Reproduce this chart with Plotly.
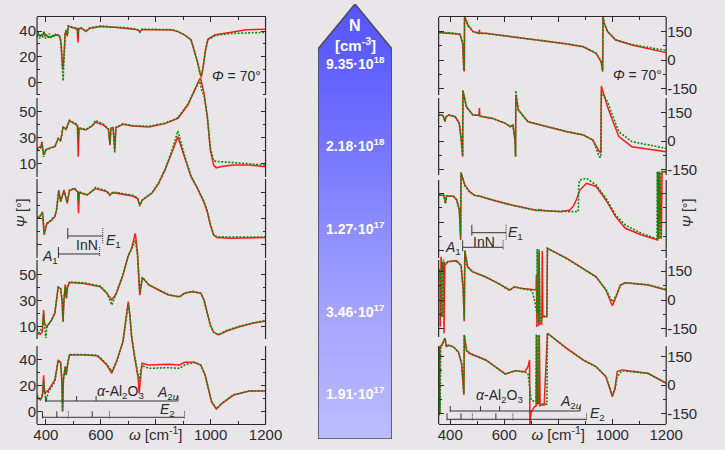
import plotly.graph_objects as go

# ----------------------------- data -----------------------------
# Left: Psi spectra (deg) vs wavenumber (cm^-1), five samples (top -> bottom)
L1_R_W = [368, 380, 395, 410, 425, 440, 450, 456, 460, 462.5, 466, 470, 474, 478, 482, 490, 505, 514, 517, 520, 530, 546, 560, 600, 650, 700, 735, 742, 750, 800, 860, 881, 905, 929, 940, 952, 960, 966, 973, 981, 990, 1017, 1070, 1130, 1200]
L1_R_V = [37, 36, 38, 35, 36, 37, 36, 30, 14, 10, 20, 38, 40, 36, 44, 43, 42, 42, 31, 42, 42, 39.5, 42, 43.5, 43, 42, 41, 39.5, 41, 41, 40.8, 39.5, 37, 33, 25, 16, 8, 3.7, 12, 25, 33.5, 37, 38.8, 41, 41.3]
L1_G_W = [368, 373, 378, 383, 388, 393, 398, 403, 408, 413, 418, 423, 428, 433, 438, 443, 448, 454, 458, 461, 463, 465, 468, 471, 474, 478, 482, 490, 505, 514, 517, 520, 530, 546, 560, 600, 650, 700, 735, 742, 750, 800, 860, 881, 905, 929, 940, 952, 960, 966, 973, 981, 990, 1017, 1070, 1130, 1200]
L1_G_V = [35, 39, 34, 38, 35, 40, 34, 37, 35, 38, 34, 37, 35, 38, 36, 37, 37, 33, 20, 5, 1, 12, 30, 39, 41, 36, 44, 43.5, 42.5, 42, 37, 42, 42.5, 40, 42.5, 44, 43, 42.5, 41, 39, 41.5, 41.5, 41, 39.5, 37, 33, 25, 16, 8, 5, 12, 24, 33, 36.5, 38, 38.7, 39]

L2_W = [368, 382, 386, 392, 400, 409.5, 433, 445, 450, 454, 462.5, 468, 474, 486, 504, 515, 518, 521, 527, 545, 569, 580.5, 610, 628, 633.6, 637, 645, 651, 655, 681, 716, 775, 834, 881, 917, 940.5, 958, 963, 968, 976, 988, 999, 1011, 1020, 1040, 1080, 1141, 1200]
L2_R_V = [21.5, 23, 26.6, 16.4, 20.5, 21.5, 22.8, 29.2, 28, 27.5, 38, 37.5, 36.5, 42.8, 40.2, 39, 15, 37, 36.5, 35.6, 38.7, 41.5, 39.5, 36, 24, 37, 37.5, 20.2, 37.3, 40, 38.7, 38, 40.5, 44.6, 54.8, 66.4, 74, 75.4, 70, 63.8, 45.8, 20.2, 8.7, 6.5, 7.5, 8.7, 8.7, 7.4]
L2_G_V = [20, 22, 25, 15, 20, 21, 23, 29, 28.5, 27, 37.5, 37, 36, 43, 41, 40, 28, 37.5, 37, 36, 39, 43, 40, 36.5, 25, 37, 37.5, 18, 37.5, 40.5, 39, 38.5, 41, 45, 55.5, 66, 73, 71, 66, 62, 46, 22, 12, 11.5, 11.2, 10.5, 9.5, 8.7]

L3_W = [368, 376, 388, 394, 403.5, 420, 433, 439, 447, 454, 466, 478, 486, 504, 516, 519, 522, 527, 551, 569, 581, 622, 633, 645, 716, 734, 742, 751.5, 787, 810.6, 834, 858, 881, 905, 928.5, 952, 976, 987.6, 999, 1011, 1023, 1070, 1200]
L3_R_V = [31, 30, 34.8, 17, 26, 28, 31, 36, 51.5, 42.5, 51.5, 41.3, 51, 52.6, 50, 33.6, 50, 49.2, 47.7, 50.3, 52.6, 50.3, 48, 49.5, 46.9, 45, 40, 43.7, 49.2, 56.7, 67, 79.8, 92.5, 77, 61.8, 52.8, 42, 34.9, 24.6, 16.9, 15, 14.4, 15]
L3_G_V = [30, 31, 34, 18, 25, 28.5, 31.5, 36.5, 50.5, 43, 51, 42, 51.5, 53, 50.5, 43, 50.5, 49.5, 48, 51, 53.5, 50.8, 47.5, 50, 47.5, 45.5, 39, 44, 49.5, 57, 67.5, 81, 97, 78, 62.5, 53, 42.5, 35.5, 25.5, 17.5, 15.5, 15.4, 15.4]

L4_R_W = [368, 380, 388, 392, 395, 403.5, 421, 433, 445, 454, 459, 462.5, 466, 471, 475, 479, 486, 539, 598, 622, 640, 657, 681, 700, 712, 722, 726, 734, 742, 751.5, 775, 810.6, 846, 887, 905, 934.5, 964, 976, 987.6, 999, 1011, 1029, 1058, 1105, 1153, 1200]
L4_R_V = [4.6, 3.8, 6, 22.5, 12.3, 9.7, 14.8, 20, 40.5, 38.7, 30, 13.5, 30, 41.8, 31.5, 40, 43.6, 43, 40.5, 35.4, 30.2, 35.4, 49.5, 64, 70, 78, 81.5, 66, 34, 47.4, 41.8, 37.9, 34.1, 32.8, 35.4, 36.6, 35.4, 30.2, 20, 11, 5.4, 3.3, 6.4, 9.7, 12.3, 14.1]
L4_G_W = [368, 375, 382, 388, 392, 396, 400, 403.5, 421, 433, 445, 454, 459, 462.5, 466, 471, 475, 479, 486, 539, 598, 622, 640, 657, 681, 700, 712, 722, 726, 734, 742, 751.5, 775, 810.6, 846, 887, 905, 934.5, 964, 976, 987.6, 999, 1011, 1029, 1058, 1105, 1153, 1200]
L4_G_V = [8, 5, 7, 10, 20, 10, 1, 9, 15, 21, 40, 39, 31, 13.5, 31, 42, 32, 40.5, 44, 43.5, 41, 35.8, 26.4, 35.8, 50, 64.5, 69, 74, 76, 64, 36.6, 47.8, 42, 38.2, 34.5, 32.5, 35.6, 37, 35.5, 30, 19.5, 10.5, 5.5, 3.6, 6.8, 10, 12.6, 14.5]

L5_R_W = [368, 380, 388, 392, 395, 409.5, 433, 445, 454, 458, 461, 464, 471, 474, 480, 486, 539, 586, 598, 622, 640, 657, 681, 694, 700, 706, 712, 722, 730, 736, 740, 744, 750, 775, 846, 887, 905, 940, 964, 980, 992, 1003, 1021, 1042, 1083, 1142, 1200]
L5_R_V = [11.3, 8.7, 12, 28, 14, 16.4, 24.3, 39.8, 37.7, 25, -0.2, 25, 34.6, 28, 38, 43.6, 43.6, 43, 41, 35.9, 29.5, 38.5, 54, 75, 85, 75, 58, 43.6, 35, 26, 14, 25, 37.2, 35.9, 36.4, 35.9, 38, 38, 35.9, 28.1, 17.8, 7.5, 1.8, 6.2, 12.6, 15.7, 15.7]
L5_G_W = [368, 375, 382, 388, 392, 396, 400, 409.5, 433, 445, 454, 458, 461, 464, 471, 474, 480, 486, 539, 586, 598, 622, 640, 657, 681, 694, 700, 706, 712, 722, 730, 736, 740, 744, 750, 775, 846, 887, 905, 940, 964, 980, 992, 1003, 1021, 1042, 1083, 1142, 1200]
L5_G_V = [13, 10, 9, 14, 24, 12, 7.7, 15, 23, 39, 38, 25, -0.2, 24, 35, 28.5, 38.5, 44, 44, 43.5, 41.5, 36.5, 31, 38, 54.5, 74, 83, 74, 59, 45, 36, 30, 23.3, 29, 35.5, 33.3, 33.8, 33.3, 35.9, 38, 35.9, 28, 18, 8, 2, 6.5, 12.8, 15.8, 16]

# Right: Delta spectra (deg)
R1_R_W = [358, 380, 400, 412, 436, 446, 450.5, 452, 453, 466, 484, 505.6, 508, 509.5, 532, 592, 652, 712, 772, 832, 892.5, 940.5, 958.6, 964.7, 966, 970, 982.7, 1012.6, 1072.7, 1132.7, 1200]
R1_R_V = [146, 143, 142, 141, 136, 88, -60, -55, 230, 185, 151, 141, 160, 141, 141, 130, 118, 106, 97, 85, 70, 35, -9, -62, 230, 195, 151, 106, 79, 62, 39]
R1_G_W = [358, 364, 370, 376, 382, 388, 394, 400, 412, 424, 436, 446, 450.5, 452, 453, 466, 484, 505.6, 508, 509.5, 532, 592, 652, 712, 772, 832, 892.5, 940.5, 958.6, 964.7, 966, 970, 982.7, 1012.6, 1072.7, 1132.7, 1200]
R1_G_V = [148, 143, 147, 142, 146, 141, 145, 142, 143, 140, 135, 90, -45, -40, 230, 180, 150, 142, 146, 141, 140, 130, 118, 107, 97, 86, 71, 36, -5, -55, 230, 195, 150, 107, 82, 67, 50]

R2_W = [358, 370, 376, 380, 384, 394, 418, 433.5, 442, 446, 447, 460, 484, 506, 508, 510, 556, 604, 622, 632, 640, 642, 643, 652, 688, 772, 832, 892.5, 928.6, 952.5, 958, 959.8, 982.7, 1000.6, 1024.6, 1072.7, 1132.7, 1200]
R2_R_V = [137, 137, 125, 102, 125, 137, 128, 93, -12, -83, 265, 180, 137, 135, 173, 130, 119, 93, 75, 84, 5, -83, 242, 163, 101, 70, 49, 32, 5, -56, -62, 289, 180, 110, 23, -30, -44, -56]
R2_G_V = [139, 136, 126, 104, 126, 138, 129, 95, -10, -80, 268, 178, 137, 136, 138, 132, 120, 94, 76, 86, 8, -80, 265, 165, 102, 71, 50, 33, 4, -83, -85, 259, 206, 137, 49, -3, -21, -39]

R3_R_W = [358, 376, 379, 382, 386, 412, 424, 433.6, 438.5, 440, 454, 472, 490, 508, 556, 628, 724, 742, 808, 844, 856.5, 868, 880.5, 904.5, 940.5, 976.6, 1012.6, 1048.6, 1108.7, 1168.7, 1170, 1173, 1176, 1182, 1185, 1200]
R3_R_V = [142, 140, 125, 98, 137, 135, 116, 63, -95, 260, 195, 160, 140, 137, 116, 89, 60, 60, 54, 63, 85, 120, 168, 204, 187, 116, 28, -33, -68, -95, 265, -90, 265, -88, 265, 265]
R3_G_W = [358, 366, 376, 379, 382, 386, 412, 424, 433.6, 438.5, 440, 454, 472, 490, 508, 556, 628, 724, 730, 742, 808, 856.5, 874.5, 876, 880.5, 904.5, 940.5, 976.6, 1012.6, 1048.6, 1108.7, 1166, 1167, 1170, 1172, 1178, 1180, 1200]
R3_G_V = [145, 140, 142, 120, 98, 138, 136, 117, 65, -77, 260, 190, 158, 141, 136, 117, 88, 58, 70, 60, 55, 54, 56, 200, 221, 230, 195, 126, 37, -16, -60, -89, 265, -85, 265, -88, 265, 265]

R4_R_W = [358, 362, 363, 366, 370, 376, 377, 380, 392, 422, 440, 448, 452, 454, 464, 482, 530, 578, 620, 638, 662, 700, 718, 719, 721, 728, 729, 732, 739, 741, 743, 758, 760, 832, 892.5, 940.5, 976.6, 1000.6, 1012.6, 1030.6, 1048.6, 1132.7, 1200]
R4_R_V = [156, 150, -139, 225, 150, 200, -174, 180, 200, 205, 182, 52, -110, 257, 174, 148, 121, 87, 52, 69, 61, 55, 52, 130, -135, -130, 250, -125, -125, 255, -87, -87, 269, 217, 165, 121, 52, -30, 10, 78, 90, 78, 52]
R4_G_W = [358, 362, 365, 368, 370, 372, 375, 380, 392, 422, 440, 448, 452, 454, 464, 482, 530, 578, 620, 638, 662, 700, 704, 712, 721, 722, 726, 729, 733, 740, 758, 760, 832, 892.5, 940.5, 976.6, 1000.6, 1012.6, 1030.6, 1048.6, 1132.7, 1200]
R4_G_V = [150, 160, 100, -87, 200, -90, 210, 190, 200, 203, 180, 55, -104, 257, 172, 147, 120, 86, 50, 68, 60, 50, 44, 0, -69, 265, -120, 265, -110, -87, -80, 269, 215, 163, 120, 55, -9, 17, 78, 90, 80, 55]

R5_R_W = [358, 360, 362, 368, 375, 381, 385, 393, 412, 430, 442, 450.5, 452, 460, 472, 532, 592, 604, 640, 676, 688, 694, 695, 700, 712, 718, 720, 722, 728, 730, 733, 748, 760, 832, 892.5, 940.5, 976.6, 990, 1000.6, 1010, 1018.7, 1036.6, 1132.7, 1200]
R5_R_V = [200, -160, 200, 209, 230, 244, 200, 209, 200, 174, 113, -52, 262, 183, 166, 131, 70, 58, 75, 70, 96, 131, -210, -140, -114, -110, 262, -100, -95, 262, -105, -105, 271, 192, 131, 96, 44, -20, -61, -20, 70, 79, 61, 9]
R5_G_W = [358, 362, 365, 372, 378, 381, 385, 393, 412, 430, 442, 450.5, 452, 460, 472, 532, 592, 604, 640, 676, 688, 700, 712, 718, 719, 723, 726, 730, 740, 758, 760, 832, 892.5, 940.5, 976.6, 990, 1000.6, 1010, 1018.7, 1036.6, 1132.7, 1200]
R5_G_V = [190, -150, 205, 210, 240, 244, 205, 207, 199, 172, 112, -45, 262, 180, 164, 130, 69, 57, 74, 68, 61, -79, -85, -85, 265, -100, 262, -110, -100, -100, 271, 190, 130, 95, 44, -15, -52, -25, 44, 75, 60, 10]

# phonon mode markers (cm^-1)
INN_E1 = [480, 607]
INN_A1 = [446, 596]
AL_A2U = [400, 512, 583, 881]
AL_EU_TO = [388, 440, 569]
AL_EU_LO = [482, 632, 905]

# carrier concentrations (arrow labels)
N_LABELS = ["9.35·10<sup>18</sup>", "2.18·10<sup>18</sup>", "1.27·10<sup>17</sup>",
            "3.46·10<sup>17</sup>", "1.91·10<sup>17</sup>"]

X_TICKS = [400, 600, 800, 1000, 1200]
X_TICKTEXT = ["400", "600", "<i>ω</i> [cm<sup>-1</sup>]", "1000", "1200"]
X_MINOR = [500, 700, 900, 1100]

# ----------------------------- layout helpers -----------------------------
W, H = 725, 450
FONT = "Liberation Sans, Arial, Helvetica, sans-serif"
RED = "#ff1a1a"
GREEN = "#0a8a0a"
INK = "#2a2a2a"
BG = "#e9e6ea"


def fx(px):
    return px / W


def fy(py):
    return 1 - py / H


TOP, BOT = 17, 424
LX0, LX1 = 35, 270
RX0, RX1 = 448, 682

# (ref pixel row, value at that row, px per unit, segment top, segment bottom,
#  labelled ticks, minor ticks, show labels)
LEFT_CFG = [
    (82, 0, 1.275, 17, 95, [0, 20, 40], [-10, 10, 30], True),
    (163.3, 10, 1.3, 98, 177, [10, 30, 50], [20, 40], True),
    (244, 10, 1.3, 179, 258, [10, 30, 50], [20, 40], False),
    (326.3, 10, 1.3, 260, 339, [10, 30, 50], [20, 40], True),
    (411.3, 0, 1.29, 346, 424, [0, 20, 40], [10, 30], True),
]
RIGHT_CFG = [
    (60, 0, 0.189, 17, 95, [-150, 0, 150], [-75, 75], True),
    (141, 0, 0.19, 98, 175, [-150, 0, 150], [-75, 75], True),
    (222, 0, 0.19, 180, 258, [-150, 0, 150], [-75, 75], False),
    (300, 0, 0.192, 260, 337, [-150, 0, 150], [-75, 75], True),
    (385, 0, 0.191, 346, 424, [-150, 0, 150], [-75, 75], True),
]

LEFT_DATA = [
    (L1_R_W, L1_R_V, L1_G_W, L1_G_V),
    (L2_W, L2_R_V, L2_W, L2_G_V),
    (L3_W, L3_R_V, L3_W, L3_G_V),
    (L4_R_W, L4_R_V, L4_G_W, L4_G_V),
    (L5_R_W, L5_R_V, L5_G_W, L5_G_V),
]
RIGHT_DATA = [
    (R1_R_W, R1_R_V, R1_G_W, R1_G_V),
    (R2_W, R2_R_V, R2_W, R2_G_V),
    (R3_R_W, R3_R_V, R3_G_W, R3_G_V),
    (R4_R_W, R4_R_V, R4_G_W, R4_G_V),
    (R5_R_W, R5_R_V, R5_G_W, R5_G_V),
]

fig = go.Figure()
layout = dict(
    width=W, height=H, margin=dict(l=0, r=0, t=0, b=0),
    paper_bgcolor=BG, plot_bgcolor="rgba(0,0,0,0)",
    showlegend=False, font=dict(family=FONT, color=INK, size=15),
)

tickfont = dict(family=FONT, size=15, color=INK)


def yaxis_def(cfg, xname, side, overlay):
    ref_py, ref_val, s, _, _, ticks, minor, show = cfg
    top_val = ref_val + (ref_py - TOP) / s
    bot_val = ref_val - (BOT - ref_py) / s
    d = dict(domain=[fy(BOT), fy(TOP)], range=[bot_val, top_val], anchor=xname,
             side=side, showgrid=False, zeroline=False, showline=False,
             ticks="inside", ticklen=5, tickwidth=1.2, tickcolor=INK, mirror="ticks",
             tickmode="array", tickvals=ticks, ticktext=[str(t) for t in ticks],
             showticklabels=show, tickfont=tickfont,
             minor=dict(tickmode="array", tickvals=minor, ticks="inside", ticklen=3,
                        tickwidth=1, tickcolor=INK))
    if overlay:
        d["overlaying"] = overlay
    return d


def xaxis_def(x0, x1, xmin, yname):
    return dict(domain=[fx(x0), fx(x1)], range=[xmin, 1200], anchor=yname,
                showgrid=False, zeroline=False, showline=True, linecolor=INK,
                linewidth=1.2, mirror="ticks", ticks="inside", ticklen=5,
                tickwidth=1.2, tickcolor=INK, tickmode="array", tickvals=X_TICKS,
                ticktext=X_TICKTEXT, tickfont=tickfont, ticklabelstandoff=-3,
                minor=dict(tickmode="array", tickvals=X_MINOR, ticks="inside",
                           ticklen=3, tickwidth=1, tickcolor=INK))


layout["xaxis"] = xaxis_def(LX0, LX1, 368, "y")
layout["xaxis2"] = xaxis_def(RX0, RX1, 357, "y6")

shapes = []
for side_i, (cfgs, datas, xname, x0, x1, yside) in enumerate([
        (LEFT_CFG, LEFT_DATA, "x", LX0, LX1, "left"),
        (RIGHT_CFG, RIGHT_DATA, "x2", RX0, RX1, "right")]):
    for k, (cfg, dat) in enumerate(zip(cfgs, datas)):
        n = side_i * 5 + k + 1
        yname = "y" if n == 1 else f"y{n}"
        base = "y" if side_i == 0 else "y6"
        overlay = None if yname == base else base
        layout["yaxis" if n == 1 else f"yaxis{n}"] = yaxis_def(cfg, xname, yside, overlay)
        rw, rv, gw, gv = dat
        fig.add_trace(go.Scatter(x=rw, y=rv, xaxis=xname, yaxis=yname, mode="lines",
                                 line=dict(color=RED, width=1.5), hoverinfo="skip"))
        fig.add_trace(go.Scatter(x=gw, y=gv, xaxis=xname, yaxis=yname, mode="lines",
                                 line=dict(color=GREEN, width=1.6, dash="2px,1.5px"),
                                 hoverinfo="skip"))
        # vertical frame segments for this panel
        for xd in (0, 1):
            shapes.append(dict(type="line", xref=f"{xname} domain", yref="paper",
                               x0=xd, x1=xd, y0=fy(cfg[3]), y1=fy(cfg[4]),
                               line=dict(color=INK, width=1.2)))


def hline(xref, w0, w1, py):
    shapes.append(dict(type="line", xref=xref, yref="paper", x0=w0, x1=w1,
                       y0=fy(py), y1=fy(py), line=dict(color="#333333", width=1)))


def vline(xref, w, py0, py1, dotted=False):
    shapes.append(dict(type="line", xref=xref, yref="paper", x0=w, x1=w,
                       y0=fy(py0), y1=fy(py1),
                       line=dict(color="#333333", width=1,
                                 dash="1px,1px" if dotted else "solid")))


annotations = []


def text(px, py, s, size=14, color=INK, angle=0, bold=False):
    annotations.append(dict(x=fx(px), y=fy(py), xref="paper", yref="paper", text=s,
                            showarrow=False, textangle=angle, xanchor="center",
                            yanchor="middle",
                            font=dict(family=FONT, size=size, color=color,
                                      weight="bold" if bold else "normal")))


# phonon bars: (xref, E1 row, A1 row, A2u row, Eu row, label positions)
BARS = [
    dict(xref="x", e1=236, a1=254, a2u=401, eu=417.3,
         inn=(86, 245), e1t=(114, 241.5), a1t=(48, 256.5),
         al=(121, 392), a2ut=(170, 393), eut=(169, 409.5)),
    dict(xref="x2", e1=232.7, a1=247.3, a2u=411, eu=419.3,
         inn=(495, 242), e1t=(527, 232.5), a1t=(463, 248),
         al=(511, 396), a2ut=(584, 402), eut=(611, 413.5)),
]
for b in BARS:
    xr = b["xref"]
    hline(xr, INN_E1[0], INN_E1[1], b["e1"])
    vline(xr, INN_E1[0], b["e1"] - 8, b["e1"] + 3)
    vline(xr, INN_E1[1], b["e1"] - 8, b["e1"] + 8, dotted=True)
    hline(xr, INN_A1[0], INN_A1[1], b["a1"])
    vline(xr, INN_A1[0], b["a1"] - 7, b["a1"] + 4)
    vline(xr, INN_A1[1], b["a1"] - 7, b["a1"] + 3, dotted=True)
    hline(xr, AL_A2U[0], AL_A2U[-1], b["a2u"])
    for i, w in enumerate(AL_A2U):
        vline(xr, w, b["a2u"] - 5, b["a2u"] + (1 if i == 0 else 0))
    hline(xr, AL_EU_TO[0], AL_EU_LO[-1], b["eu"])
    for i, w in enumerate(AL_EU_TO):
        vline(xr, w, b["eu"] - 6, b["eu"] + (1 if i == 0 else 0))
    for w in AL_EU_LO:
        vline(xr, w, b["eu"] - 6, b["eu"] + 1, dotted=True)
    text(*b["inn"], "InN", size=14)
    text(*b["e1t"], "<i>E</i><sub>1</sub>", size=14)
    text(*b["a1t"], "<i>A</i><sub>1</sub>", size=14)
    text(*b["al"], "<i>α</i>-Al<sub>2</sub>O<sub>3</sub>", size=14)
    text(*b["a2ut"], "<i>A</i><sub>2<i>u</i></sub>", size=14)
    text(*b["eut"], "<i>E</i><sub>2</sub>", size=14)

# angle of incidence and axis titles
text(240, 76, "<i>Φ</i> = 70°", size=14)
text(652, 75, "<i>Φ</i> = 70°", size=14)
text(20, 213, "<i>Ψ</i> [°]", size=14, angle=-90)
text(704, 213, "<i>Ψ</i> [°]", size=14, angle=-90)

# ----------------------------- concentration arrow -----------------------------
ARROW_X = [0, 0, 0.5, 1, 1, 0]
ARROW_Y = [0, 0.8966, 1, 0.8966, 0, 0]
fig.add_trace(go.Scatter(
    x=ARROW_X, y=ARROW_Y, xaxis="x3", yaxis="y11", mode="lines", fill="toself",
    fillgradient=dict(type="vertical", start=0, stop=1,
                      colorscale=[[0, "#bcbcff"], [0.3, "#a3a3ff"], [0.5, "#8b8bff"],
                                  [0.72, "#6f6fff"], [0.9, "#5c5cff"], [1, "#5656ff"]]),
    line=dict(color="#4a4a58", width=1.5), hoverinfo="skip"))
layout["xaxis3"] = dict(domain=[fx(324), fx(400)], range=[0, 1], anchor="y11",
                        visible=False, fixedrange=True)
layout["yaxis11"] = dict(domain=[fy(439), fy(4)], range=[0, 1], anchor="x3",
                         visible=False, fixedrange=True)

text(362, 25, "N", size=16, color="white", bold=True)
text(362, 45, "[cm<sup>-3</sup>]", size=15, color="white", bold=True)
for lab, py in zip(N_LABELS, [63, 145, 228, 311, 393]):
    text(362, py, lab, size=14, color="white", bold=True)

layout["shapes"] = shapes
layout["annotations"] = annotations
fig.update_layout(**layout)
fig.write_html("out.html", config={"displayModeBar": False},
               post_script="document.body.style.margin='0px';"
                           "document.body.style.overflow='hidden';")
